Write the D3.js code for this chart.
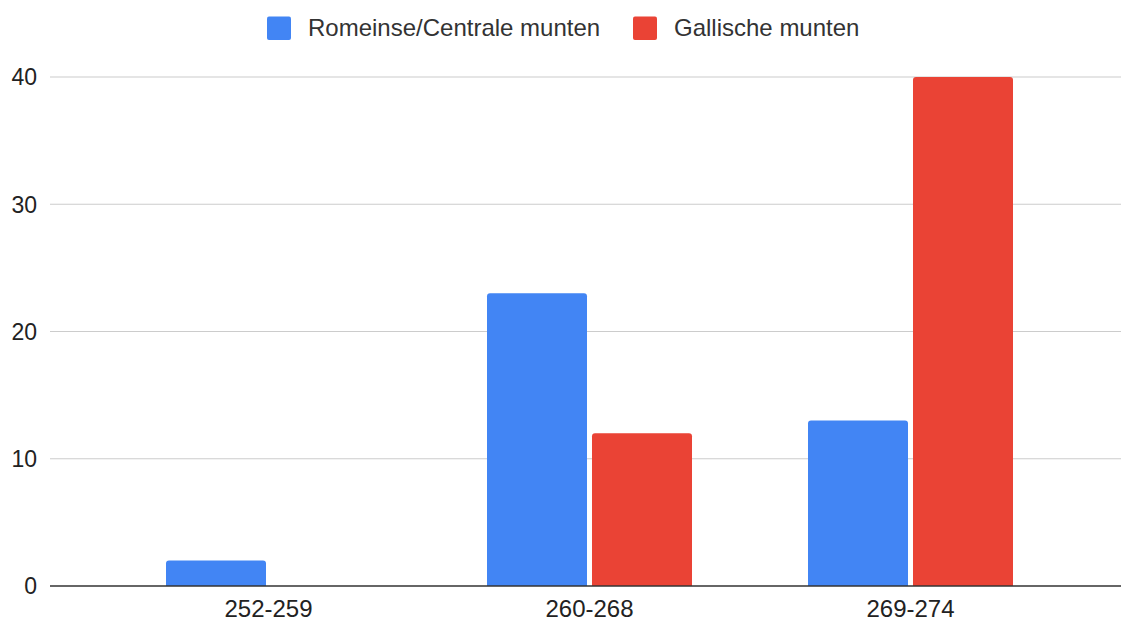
<!DOCTYPE html>
<html>
<head>
<meta charset="utf-8">
<script src="https://cdn.jsdelivr.net/npm/d3@7"></script>
<style>
  html, body { margin: 0; padding: 0; background: #fff; }
  svg { display: block; font-family: "Liberation Sans", Arial, sans-serif; }
</style>
</head>
<body>
<svg id="chart" width="1121" height="621"></svg>
<script>
const categories = ["252-259", "260-268", "269-274"];
const seriesNames = ["Romeinse/Centrale munten", "Gallische munten"];
const romeinseValues = [2, 23, 13];
const gallischeValues = [0, 12, 40];
const yTicks = [0, 10, 20, 30, 40];
const colors = ["#4285F4", "#EA4335"];

const svg = d3.select("#chart");
const plotLeft = 50, plotRight = 1121, plotTop = 77, plotBottom = 586;

const y = d3.scaleLinear().domain([0, 40]).range([plotBottom, plotTop]);
const x0 = d3.scaleBand().domain(categories).range([108, 1071]).paddingInner(0).paddingOuter(0);
const x1 = d3.scaleBand().domain(seriesNames).range([58, 263]).paddingInner(0.0476).paddingOuter(0);

const seriesData = [romeinseValues, gallischeValues];

// gridlines
svg.append("g").selectAll("line").data(yTicks.filter(t => t !== 0)).join("line")
  .attr("x1", plotLeft).attr("x2", plotRight)
  .attr("y1", d => y(d)).attr("y2", d => y(d))
  .attr("stroke", "#cccccc").attr("stroke-width", 1.2);

// y tick labels
svg.append("g").selectAll("text").data(yTicks).join("text")
  .attr("x", 37).attr("y", d => y(d))
  .attr("dy", "0.36em")
  .attr("text-anchor", "end")
  .attr("font-size", 23)
  .attr("fill", "#222")
  .text(d => d);

// bars
function barPath(x, yTop, w, yBot, r) {
  const h = yBot - yTop;
  if (h <= 0) return "";
  r = Math.min(r, h, w / 2);
  return `M${x},${yBot}V${yTop + r}Q${x},${yTop} ${x + r},${yTop}H${x + w - r}Q${x + w},${yTop} ${x + w},${yTop + r}V${yBot}Z`;
}

const groups = svg.append("g").selectAll("g").data(categories).join("g")
  .attr("transform", d => `translate(${x0(d)},0)`);

groups.selectAll("path").data((c, i) => seriesNames.map((s, j) => ({ s, j, v: seriesData[j][i] })))
  .join("path")
  .attr("d", d => barPath(x1(d.s), y(d.v), x1.bandwidth(), y(0), 3))
  .attr("fill", d => colors[d.j]);

// x axis line
svg.append("line")
  .attr("x1", plotLeft).attr("x2", plotRight)
  .attr("y1", plotBottom).attr("y2", plotBottom)
  .attr("stroke", "#333").attr("stroke-width", 1.6);

// x labels
svg.append("g").selectAll("text").data(categories).join("text")
  .attr("x", d => x0(d) + x0.bandwidth() / 2)
  .attr("y", 617)
  .attr("text-anchor", "middle")
  .attr("font-size", 24)
  .attr("fill", "#222")
  .text(d => d);

// legend
const legendItems = [
  { name: seriesNames[0], color: colors[0], sx: 267, tx: 308 },
  { name: seriesNames[1], color: colors[1], sx: 633, tx: 674 }
];
const lg = svg.append("g");
lg.selectAll("rect").data(legendItems).join("rect")
  .attr("x", d => d.sx).attr("y", 16.5)
  .attr("width", 24).attr("height", 23.5)
  .attr("rx", 2)
  .attr("fill", d => d.color);
lg.selectAll("text").data(legendItems).join("text")
  .attr("x", d => d.tx).attr("y", 36)
  .attr("font-size", 24)
  .attr("fill", "#333")
  .text(d => d.name);
</script>
</body>
</html>
